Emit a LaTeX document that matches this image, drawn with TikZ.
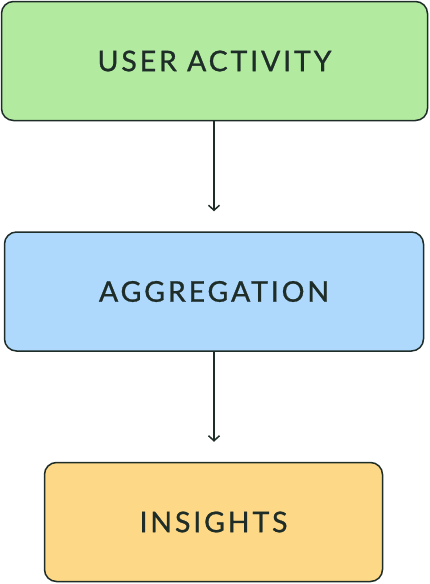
\documentclass[tikz,border=0pt]{standalone}
\usepackage{fontspec}
\setmainfont{Lato}[LetterSpace=10,FakeBold=0.9]
\usetikzlibrary{positioning,arrows.meta}
\definecolor{ink}{HTML}{1F2D28}
\definecolor{actgreen}{HTML}{B2EBA0}
\definecolor{aggblue}{HTML}{AED8FC}
\definecolor{insorange}{HTML}{FDD886}
\begin{document}
\begin{tikzpicture}[x=1pt,y=-1pt,
  stage/.style={draw=ink,line width=1.5pt,rounded corners=12pt,minimum height=119pt,
    text=ink,font=\fontsize{28.5}{32}\selectfont},
  flow/.style={draw=ink,line width=1.5pt,-{Straight Barb[length=5pt,width=11pt,line width=1.5pt]},shorten >=20pt}]
\useasboundingbox (0,0) rectangle (429,584);

\node[stage,fill=actgreen,minimum width=426pt] (act) at (214.5,61) {USER ACTIVITY};
\node[stage,fill=aggblue,minimum width=419pt] (agg) at (214,291.5) {AGGREGATION};
\node[stage,fill=insorange,minimum width=338pt] (ins) at (213.5,522) {INSIGHTS};

\draw[flow] (agg.north |- act.south) -- (agg.north);
\draw[flow] (agg.south) -- (agg.south |- ins.north);
\end{tikzpicture}
\end{document}
